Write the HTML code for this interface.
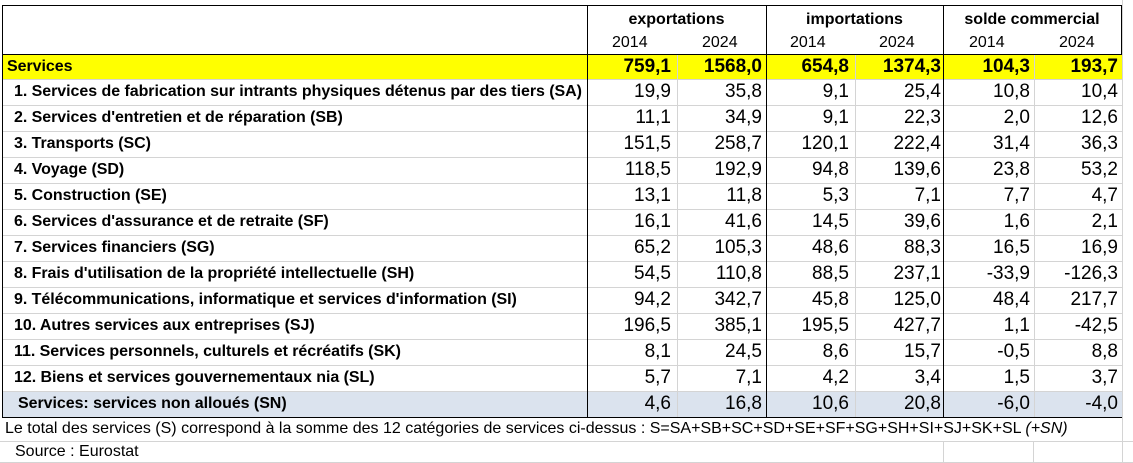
<!DOCTYPE html>
<html><head><meta charset="utf-8"><style>
body{margin:0;width:1133px;height:463px;background:#fff;position:relative;overflow:hidden;font-family:"Liberation Sans",Arial,sans-serif;color:#000}
.a{position:absolute;white-space:nowrap}
.hl{position:absolute;height:1px;background:#d4d4d4}
.vl{position:absolute;width:1px;background:#d4d4d4}
.bk{background:#000}
.lab{position:absolute;font-weight:bold;font-size:16px;line-height:26px;white-space:nowrap;letter-spacing:-0.05px}
.n{position:absolute;font-size:19px;text-align:right;width:100px;line-height:26px}
</style></head><body>
<div class="vl" style="left:1122px;top:0;height:463px"></div>
<div class="a" style="left:2px;top:54px;width:1120px;height:25px;background:#ffff00"></div>
<div class="a" style="left:2px;top:391px;width:1120px;height:27px;background:#dbe3ee"></div>
<div id="rows"></div>
<script>
var r=document.getElementById('rows'),h='';
for(var i=0;i<=12;i++){h+='<div class="hl" style="left:2px;width:1120px;top:'+(79+26*i)+'px"></div>';}
h+='<div class="hl" style="left:0;width:1133px;top:441px"></div><div class="hl" style="left:0;width:1133px;top:462px"></div>';
[677,855,1034].forEach(function(x){h+='<div class="vl" style="left:'+x+'px;top:54px;height:364px"></div>';});
h+='<div class="vl" style="left:943px;top:441px;height:22px"></div><div class="vl" style="left:1033px;top:441px;height:22px"></div>';
r.innerHTML=h;
</script>
<div class="a bk" style="left:2px;top:5px;width:1120px;height:1px"></div>
<div class="a bk" style="left:2px;top:54px;width:1120px;height:1px"></div>
<div class="a bk" style="left:2px;top:417px;width:1120px;height:1px"></div>
<div class="a bk" style="left:2px;top:5px;width:1px;height:413px"></div>
<div class="a bk" style="left:587px;top:5px;width:1px;height:413px"></div>
<div class="a bk" style="left:766px;top:5px;width:1px;height:413px"></div>
<div class="a bk" style="left:943px;top:5px;width:1px;height:413px"></div>
<div class="a bk" style="left:1121px;top:5px;width:1px;height:50px"></div>
<div class="a" style="left:587px;width:179px;top:11px;text-align:center;font-weight:bold;font-size:16px">exportations</div>
<div class="a" style="left:766px;width:177px;top:11px;text-align:center;font-weight:bold;font-size:16px">importations</div>
<div class="a" style="left:943px;width:178px;top:11px;text-align:center;font-weight:bold;font-size:16px">solde commercial</div>
<div class="a" style="left:612px;top:34px;font-size:16px">2014</div>
<div class="a" style="left:702px;top:34px;font-size:16px">2024</div>
<div class="a" style="left:790px;top:34px;font-size:16px">2014</div>
<div class="a" style="left:879px;top:34px;font-size:16px">2024</div>
<div class="a" style="left:969px;top:34px;font-size:16px">2014</div>
<div class="a" style="left:1059px;top:34px;font-size:16px">2024</div>
<div id="body"></div>
<script>
var d=[
["Services",7,true,["759,1","1568,0","654,8","1374,3","104,3","193,7"]],
["1. Services de fabrication sur intrants physiques détenus par des tiers (SA)",14,false,["19,9","35,8","9,1","25,4","10,8","10,4"]],
["2. Services d'entretien et de réparation (SB)",14,false,["11,1","34,9","9,1","22,3","2,0","12,6"]],
["3. Transports (SC)",14,false,["151,5","258,7","120,1","222,4","31,4","36,3"]],
["4. Voyage (SD)",14,false,["118,5","192,9","94,8","139,6","23,8","53,2"]],
["5. Construction (SE)",14,false,["13,1","11,8","5,3","7,1","7,7","4,7"]],
["6. Services d'assurance et de retraite (SF)",14,false,["16,1","41,6","14,5","39,6","1,6","2,1"]],
["7. Services financiers (SG)",14,false,["65,2","105,3","48,6","88,3","16,5","16,9"]],
["8. Frais d'utilisation de la propriété intellectuelle (SH)",14,false,["54,5","110,8","88,5","237,1","-33,9","-126,3"]],
["9. Télécommunications, informatique et services d'information (SI)",14,false,["94,2","342,7","45,8","125,0","48,4","217,7"]],
["10. Autres services aux entreprises (SJ)",14,false,["196,5","385,1","195,5","427,7","1,1","-42,5"]],
["11. Services personnels, culturels et récréatifs (SK)",14,false,["8,1","24,5","8,6","15,7","-0,5","8,8"]],
["12. Biens et services gouvernementaux nia (SL)",14,false,["5,7","7,1","4,2","3,4","1,5","3,7"]],
["Services: services non alloués (SN)",18,false,["4,6","16,8","10,6","20,8","-6,0","-4,0"]]
];
var ends=[671,762,849,941,1030,1118],h='';
d.forEach(function(row,i){
 var top=i==0?54:(79+26*(i-1));
 if(i==13)top=391;
 h+='<div class="lab" style="left:'+row[1]+'px;top:'+top+'px">'+row[0]+'</div>';
 row[3].forEach(function(v,j){
  h+='<div class="n" style="left:'+(ends[j]-100)+'px;top:'+top+'px;'+(row[2]?'font-weight:bold;':'')+'">'+v+'</div>';
 });
});
document.getElementById('body').innerHTML=h;
</script>
<div class="a" style="left:5px;top:419px;font-size:16px;line-height:20px">Le total des services (S) correspond à la somme des 12 catégories de services ci-dessus : S=SA+SB+SC+SD+SE+SF+SG+SH+SI+SJ+SK+SL <i>(+SN)</i></div>
<div class="a" style="left:15px;top:442px;font-size:16px;line-height:20px">Source : Eurostat</div>
</body></html>
